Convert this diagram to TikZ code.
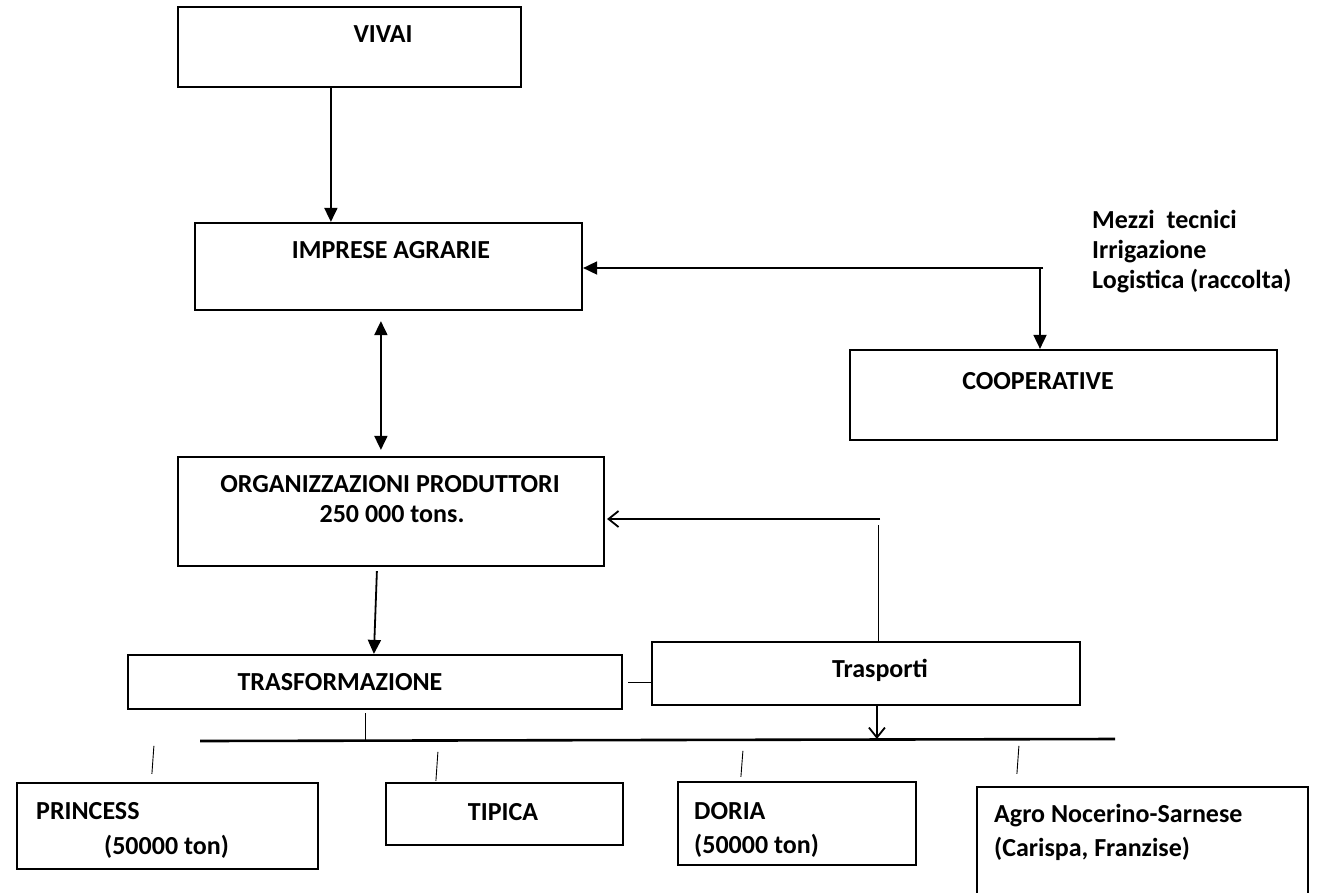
\documentclass[tikz,border=0pt]{standalone}
\usepackage{fontspec}
\setmainfont{Carlito}
\usetikzlibrary{arrows.meta}
\tikzset{
  box/.style={draw=black, line width=2.2pt, rectangle, inner sep=0pt, fill=none},
  txt/.style={font=\fontsize{26}{31}\selectfont\bfseries, inner sep=0pt, align=left},
  arr/.style={line width=1.8pt, -{Triangle[length=14pt,width=13pt]}},
  darr/.style={line width=1.8pt, {Triangle[length=14pt,width=13pt]}-{Triangle[length=14pt,width=13pt]}},
  oarr/.style={line width=1.8pt, -{Straight Barb[length=10pt,width=16pt,line width=1.8pt]}},
  thin/.style={line width=0.9pt},
  bus/.style={line width=2.6pt}
}
\begin{document}
\begin{tikzpicture}[x=1pt,y=-1pt]
\useasboundingbox (0,0) rectangle (1319,892);
\fill[white] (0,0) rectangle (1319,892);
% boxes
\node[box, minimum width=343pt, minimum height=80pt] (vivai) at (349.5,47) {};
\node[box, minimum width=387pt, minimum height=87pt] (impr) at (388.5,266.5) {};
\node[box, minimum width=427pt, minimum height=90pt] (coop) at (1063.5,395) {};
\node[box, minimum width=426pt, minimum height=109pt] (org) at (391,511.5) {};
\node[box, minimum width=494pt, minimum height=54pt] (trasf) at (375,682) {};
\node[box, minimum width=428pt, minimum height=63pt] (trasp) at (866,673.5) {};
\node[box, minimum width=301pt, minimum height=86pt] (princ) at (167.5,826) {};
\node[box, minimum width=237pt, minimum height=62pt] (tipica) at (504.5,814) {};
\node[box, minimum width=238pt, minimum height=83pt] (doria) at (797,823.5) {};
\node[box, minimum width=331pt, minimum height=120pt] (agro) at (1142.5,847) {};
% texts
\node[txt] (vivaiT) at (383,34) {VIVAI};
\node[txt] (imprT) at (391,250) {IMPRESE AGRARIE};
\node[txt, anchor=base west] (mezzi) at (1092,228) {Mezzi\ \ tecnici};
\node[txt, anchor=base west] (irrig) at (1092,258) {Irrigazione};
\node[txt, anchor=base west] (logis) at (1092,288) {Logistica (raccolta)};
\node[txt] (coopT) at (1038,381) {COOPERATIVE};
\node[txt] (orgT1) at (390,484) {ORGANIZZAZIONI PRODUTTORI};
\node[txt] (orgT2) at (392,514) {250 000 tons.};
\node[txt] (trasfT) at (340,682) {TRASFORMAZIONE};
\node[txt, anchor=base] (traspT) at (880,677) {Trasporti};
\node[txt, anchor=base west] (princT1) at (36,819) {PRINCESS};
\node[txt, anchor=base west] (princT2) at (104,854) {(50000 ton)};
\node[txt] (tipicaT) at (503,812) {TIPICA};
\node[txt, anchor=base west] (doriaT1) at (694,819) {DORIA};
\node[txt, anchor=base west] (doriaT2) at (694,853) {(50000 ton)};
\node[txt, anchor=base west] (agroT1) at (994,822) {Agro Nocerino-Sarnese};
\node[txt, anchor=base west] (agroT2) at (994,856) {(Carispa, Franzise)};
% helper coordinates
\coordinate (cj) at (1043,268);
\coordinate (tj) at (880,519);
\coordinate (busL) at (200,741);
\coordinate (busR) at (1115,739);
% connectors
\draw[arr] ([xshift=154pt]vivai.south west) -- ([xshift=137pt]impr.north west);
\draw[arr] (cj) -- (impr.east |- cj);
\draw[arr] ([xshift=-3pt]cj) -- ([xshift=-3pt]cj |- coop.north);
\draw[darr] ([xshift=187pt,yshift=-10pt]impr.south west) -- ([xshift=204pt,yshift=6pt]org.north west);
\draw[oarr] (tj) -- ([xshift=2pt]org.east |- tj);
\draw[thin] ([xshift=-2pt,yshift=-6pt]tj) -- ([xshift=-2pt]tj |- trasp.north);
\draw[arr] ([xshift=200pt,yshift=-4pt]org.south west) -- ([xshift=247pt]trasf.north west);
\draw[thin] ([xshift=5pt]trasf.east) -- (trasp.west |- trasf.east);
\draw[oarr] ([xshift=226pt]trasp.south west) -- ([xshift=226pt]trasp.south west |- busR);
\draw[thin] ([xshift=239pt,yshift=-3pt]trasf.south west) -- ([xshift=239pt]trasf.south west |- busL);
\draw[bus] (busL) -- (busR);
\draw[thin] ([xshift=136pt,yshift=8pt]princ.north west) -- ([xshift=138pt,yshift=36pt]princ.north west);
\draw[thin] ([xshift=51pt,yshift=1pt]tipica.north west) -- ([xshift=53pt,yshift=30pt]tipica.north west);
\draw[thin] ([xshift=64pt,yshift=4pt]doria.north west) -- ([xshift=66pt,yshift=30pt]doria.north west);
\draw[thin] ([xshift=41pt,yshift=12pt]agro.north west) -- ([xshift=43pt,yshift=40pt]agro.north west);
\end{tikzpicture}
\end{document}
